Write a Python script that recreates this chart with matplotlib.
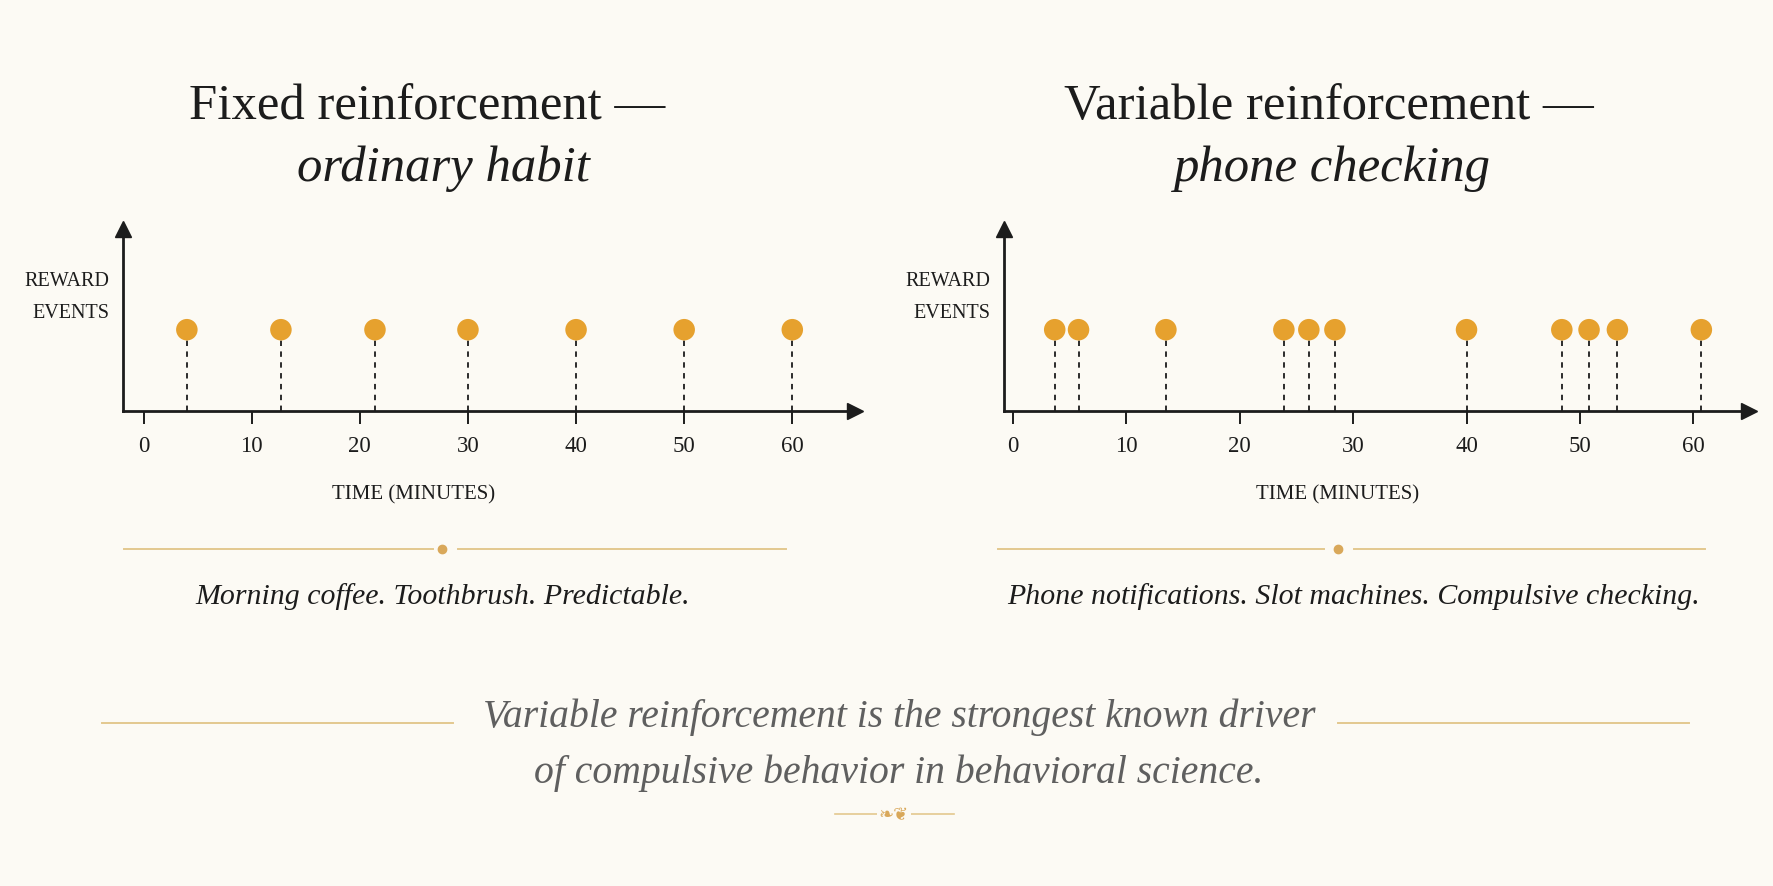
import numpy as np
import matplotlib
matplotlib.use("Agg")
import matplotlib.pyplot as plt

plt.rcParams['font.family'] = ['Liberation Serif', 'DejaVu Serif', 'DejaVu Sans']

# --- Data (minutes at which a reward arrives) ---
fixed_times = [4.0, 12.7, 21.4, 30.0, 40.0, 50.0, 60.0]
variable_times = [3.7, 5.8, 13.5, 23.9, 26.1, 28.4, 40.0, 48.4, 50.8, 53.3, 60.7]
tick_values = [0, 10, 20, 30, 40, 50, 60]

titles = [("Fixed reinforcement —", "ordinary habit"),
          ("Variable reinforcement —", "phone checking")]
captions = ["Morning coffee. Toothbrush. Predictable.",
            "Phone notifications. Slot machines. Compulsive checking."]
quote = ["Variable reinforcement is the strongest known driver",
         "of compulsive behavior in behavioral science."]

# --- Style ---
W, H = 1774, 887
BG = "#FCFAF4"
GOLD = "#E6A12E"
RULE = "#E3C88F"
INK = "#1c1c1c"


def fx(px):
    return px / W


def fy(py):
    return 1 - py / H


fig = plt.figure(figsize=(W / 100, H / 100), dpi=100)
fig.patch.set_facecolor(BG)

# axes boxes in pixels: (left, right, xlim)
panels = [
    (fixed_times, 123.5, 855, (-1.86, 65.8), 427, 443),
    (variable_times, 1004, 1749, (-0.77, 64.9), 1329, 1332),
]
top_px, base_px = 230, 412
dot_level = (base_px - 330.7) / (base_px - top_px)

for i, (times, left, right, xlim, t1x, t2x) in enumerate(panels):
    ax = fig.add_axes([fx(left), fy(base_px), fx(right - left),
                       (base_px - top_px) / H])
    ax.set_facecolor("none")
    ax.set_xlim(*xlim)
    ax.set_ylim(0, 1)
    for s in ["top", "right"]:
        ax.spines[s].set_visible(False)
    for s in ["left", "bottom"]:
        ax.spines[s].set_linewidth(2.0)
        ax.spines[s].set_color(INK)
    ax.plot(1, 0, ">", color=INK, ms=11, transform=ax.transAxes, clip_on=False)
    ax.plot(0, 1, "^", color=INK, ms=11, transform=ax.transAxes, clip_on=False)

    ax.set_yticks([])
    ax.set_xticks(tick_values)
    ax.tick_params(axis="x", direction="out", length=9, width=1.4, color=INK,
                   pad=8, labelsize=16.5, labelcolor=INK)

    ax.vlines(times, 0, dot_level, colors=INK, linestyles=(0, (3, 3)), lw=1.3)
    ax.scatter(times, [dot_level] * len(times), s=240, color=GOLD, zorder=3,
               edgecolors="none", clip_on=False)

    # axis labels
    fig.text(fx(left - 14), fy(281), "REWARD", ha="right", va="center",
             fontsize=14.5, color=INK)
    fig.text(fx(left - 14), fy(313), "EVENTS", ha="right", va="center",
             fontsize=14.5, color=INK)
    centre = 414 if i == 0 else 1338
    fig.text(fx(centre), fy(495), "TIME (MINUTES)", ha="center", va="center",
             fontsize=15, color=INK)

    # titles
    fig.text(fx(t1x), fy(119), titles[i][0], ha="center", va="baseline",
             fontsize=36.5, color=INK)
    fig.text(fx(t2x), fy(181), titles[i][1], ha="center", va="baseline",
             fontsize=36.5, style="italic", color=INK)

# divider rules with a dot in the middle
for l1, l2, d, r1, r2 in [(124, 433, 442, 458, 786), (998, 1324, 1338, 1354, 1705)]:
    fig.add_artist(plt.Line2D([fx(l1), fx(l2)], [fy(550)] * 2, color=RULE, lw=1.4))
    fig.add_artist(plt.Line2D([fx(r1), fx(r2)], [fy(550)] * 2, color=RULE, lw=1.4))
    fig.add_artist(plt.Line2D([fx(d)], [fy(550)], marker="o", ms=6,
                              color="#D9A85A", lw=0))

fig.text(fx(443), fy(597), captions[0], ha="center", va="center",
         fontsize=21.5, style="italic", color=INK)
fig.text(fx(1354), fy(597), captions[1], ha="center", va="center",
         fontsize=21.5, style="italic", color=INK)

# closing quote
fig.text(fx(899), fy(717), quote[0], ha="center", va="center",
         fontsize=28.5, style="italic", color="#5f5f5f")
fig.text(fx(899), fy(773), quote[1], ha="center", va="center",
         fontsize=28.5, style="italic", color="#5f5f5f")
fig.add_artist(plt.Line2D([fx(102), fx(453)], [fy(724)] * 2, color=RULE, lw=1.4))
fig.add_artist(plt.Line2D([fx(1338), fx(1689)], [fy(724)] * 2, color=RULE, lw=1.4))

# small ornament at the bottom
fig.add_artist(plt.Line2D([fx(835), fx(954)], [fy(815)] * 2, color=RULE, lw=1.2))
fig.text(fx(894), fy(815), "\u2767\u2766", ha="center", va="center",
         fontsize=13, color="#D9A85A", family="DejaVu Sans",
         bbox=dict(boxstyle="square,pad=0.1", fc=BG, ec="none"))

fig.savefig("out.png", dpi=100, facecolor=BG)
